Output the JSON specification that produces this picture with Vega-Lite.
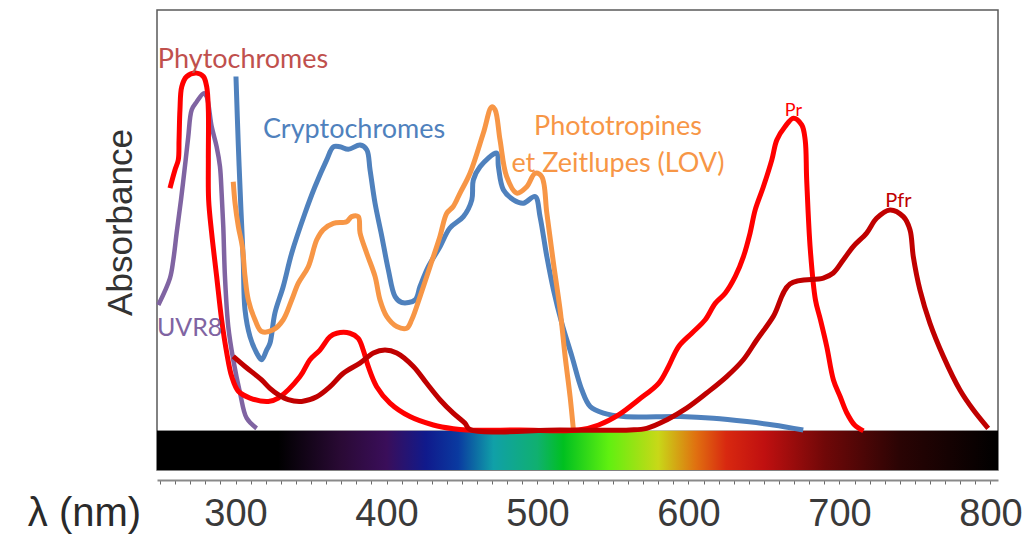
{
  "$schema": "https://vega.github.io/schema/vega-lite/v6.json",
  "width": 841,
  "height": 460,
  "autosize": {"type": "none"},
  "padding": {"left": 157, "top": 10, "right": 36, "bottom": 68},
  "background": "white",
  "config": {"view": {"stroke": "#5a5a5a", "strokeWidth": 1.5}},
  "datasets": {
    "bar": [{"wl": 248, "wl2": 805, "a": -9.3, "a2": 0}],
    "uvr8": [
      {"wl": 248.9, "a": 29.9}, {"wl": 256.6, "a": 36.3}, {"wl": 258.8, "a": 40.6}, {"wl": 261.0, "a": 47.0},
      {"wl": 263.9, "a": 54.9}, {"wl": 267.0, "a": 64.4}, {"wl": 268.7, "a": 69.9}, {"wl": 271.0, "a": 76.3},
      {"wl": 274.3, "a": 78.2}, {"wl": 279.1, "a": 80.2}, {"wl": 280.9, "a": 79.4}, {"wl": 284.2, "a": 72.3},
      {"wl": 287.5, "a": 67.5}, {"wl": 289.7, "a": 62.8}, {"wl": 290.8, "a": 56.5}, {"wl": 291.9, "a": 48.5},
      {"wl": 293.0, "a": 36.7}, {"wl": 295.2, "a": 24.8}, {"wl": 298.5, "a": 16.9}, {"wl": 303.0, "a": 9.0},
      {"wl": 307.4, "a": 3.0}, {"wl": 314.0, "a": 0.6}
    ],
    "crypto": [
      {"wl": 300.3, "a": 84.2}, {"wl": 301.8, "a": 68.4}, {"wl": 303.6, "a": 52.5}, {"wl": 305.1, "a": 40.6},
      {"wl": 306.3, "a": 28.7}, {"wl": 309.6, "a": 22.4}, {"wl": 314.0, "a": 18.5}, {"wl": 317.3, "a": 16.9},
      {"wl": 320.6, "a": 19.2}, {"wl": 322.8, "a": 20.8}, {"wl": 326.1, "a": 28.0}, {"wl": 331.6, "a": 34.3},
      {"wl": 337.2, "a": 42.2}, {"wl": 346.0, "a": 51.7}, {"wl": 352.6, "a": 58.0}, {"wl": 360.4, "a": 64.4},
      {"wl": 364.8, "a": 67.5}, {"wl": 369.2, "a": 67.5}, {"wl": 374.7, "a": 66.9}, {"wl": 382.5, "a": 67.9},
      {"wl": 386.9, "a": 66.8}, {"wl": 389.1, "a": 62.0}, {"wl": 392.4, "a": 54.1}, {"wl": 396.9, "a": 46.2},
      {"wl": 401.2, "a": 38.3}, {"wl": 405.7, "a": 31.9}, {"wl": 410.1, "a": 30.5}, {"wl": 418.9, "a": 31.1},
      {"wl": 422.2, "a": 34.3}, {"wl": 427.7, "a": 39.0}, {"wl": 435.5, "a": 43.8}, {"wl": 442.0, "a": 48.2},
      {"wl": 450.9, "a": 50.9}, {"wl": 456.5, "a": 54.9}, {"wl": 457.5, "a": 59.6}, {"wl": 462.0, "a": 62.8},
      {"wl": 473.0, "a": 66.0}, {"wl": 474.1, "a": 62.8}, {"wl": 477.4, "a": 57.3}, {"wl": 484.1, "a": 54.9},
      {"wl": 490.7, "a": 54.1}, {"wl": 498.4, "a": 55.7}, {"wl": 501.7, "a": 50.9}, {"wl": 506.2, "a": 41.4},
      {"wl": 510.6, "a": 33.5}, {"wl": 516.1, "a": 25.6}, {"wl": 522.8, "a": 17.7}, {"wl": 529.4, "a": 9.7},
      {"wl": 534.9, "a": 5.8}, {"wl": 543.7, "a": 4.2}, {"wl": 557.0, "a": 3.4}, {"wl": 594.5, "a": 3.4},
      {"wl": 616.6, "a": 3.0}, {"wl": 638.7, "a": 2.2}, {"wl": 656.2, "a": 1.4}, {"wl": 676.0, "a": 0.2}
    ],
    "photo": [
      {"wl": 298.5, "a": 59.2}, {"wl": 299.7, "a": 54.1}, {"wl": 301.9, "a": 48.5}, {"wl": 304.5, "a": 43.8},
      {"wl": 306.3, "a": 36.7}, {"wl": 308.5, "a": 31.1}, {"wl": 312.9, "a": 26.4}, {"wl": 317.3, "a": 23.6},
      {"wl": 325.0, "a": 24.0}, {"wl": 331.6, "a": 26.4}, {"wl": 337.2, "a": 31.1}, {"wl": 341.6, "a": 35.1},
      {"wl": 348.2, "a": 39.0}, {"wl": 353.8, "a": 45.4}, {"wl": 358.1, "a": 47.8}, {"wl": 364.8, "a": 49.3},
      {"wl": 373.6, "a": 49.7}, {"wl": 376.9, "a": 50.9}, {"wl": 381.3, "a": 50.9}, {"wl": 382.5, "a": 47.0},
      {"wl": 386.9, "a": 42.2}, {"wl": 392.4, "a": 36.7}, {"wl": 395.7, "a": 31.1}, {"wl": 400.1, "a": 27.2},
      {"wl": 406.8, "a": 24.8}, {"wl": 413.4, "a": 24.4}, {"wl": 416.7, "a": 26.4}, {"wl": 422.2, "a": 31.9},
      {"wl": 428.8, "a": 39.0}, {"wl": 435.4, "a": 46.2}, {"wl": 439.9, "a": 51.7}, {"wl": 444.2, "a": 53.3},
      {"wl": 448.7, "a": 56.5}, {"wl": 455.3, "a": 61.2}, {"wl": 464.1, "a": 70.7}, {"wl": 469.7, "a": 77.0},
      {"wl": 471.9, "a": 76.3}, {"wl": 475.2, "a": 69.1}, {"wl": 479.6, "a": 60.4}, {"wl": 486.2, "a": 56.5},
      {"wl": 492.9, "a": 58.0}, {"wl": 498.4, "a": 61.2}, {"wl": 502.8, "a": 60.4}, {"wl": 506.2, "a": 51.7},
      {"wl": 510.6, "a": 39.8}, {"wl": 515.0, "a": 28.7}, {"wl": 518.3, "a": 17.7}, {"wl": 521.6, "a": 8.1},
      {"wl": 523.8, "a": 0.2}
    ],
    "pr": [
      {"wl": 256.6, "a": 57.7}, {"wl": 259.9, "a": 62.0}, {"wl": 262.1, "a": 64.4}, {"wl": 262.6, "a": 69.1},
      {"wl": 263.2, "a": 76.3}, {"wl": 264.4, "a": 81.8}, {"wl": 267.7, "a": 84.2}, {"wl": 274.3, "a": 85.0},
      {"wl": 278.7, "a": 84.2}, {"wl": 280.9, "a": 81.8}, {"wl": 282.0, "a": 76.3}, {"wl": 282.0, "a": 64.4},
      {"wl": 282.2, "a": 54.9}, {"wl": 284.2, "a": 47.0}, {"wl": 287.5, "a": 36.7}, {"wl": 290.8, "a": 26.4},
      {"wl": 294.2, "a": 18.5}, {"wl": 297.5, "a": 12.9}, {"wl": 301.9, "a": 9.4}, {"wl": 309.6, "a": 7.8},
      {"wl": 321.7, "a": 7.0}, {"wl": 328.3, "a": 7.8}, {"wl": 342.7, "a": 12.9}, {"wl": 349.3, "a": 16.9},
      {"wl": 355.9, "a": 19.2}, {"wl": 362.6, "a": 22.4}, {"wl": 367.0, "a": 23.2}, {"wl": 375.8, "a": 23.2},
      {"wl": 381.3, "a": 22.0}, {"wl": 384.6, "a": 19.2}, {"wl": 387.9, "a": 15.3}, {"wl": 393.5, "a": 10.5},
      {"wl": 402.3, "a": 6.6}, {"wl": 415.5, "a": 3.4}, {"wl": 431.0, "a": 1.4}, {"wl": 444.2, "a": 0.5},
      {"wl": 453.1, "a": 0.2}, {"wl": 488.3, "a": 0.2}, {"wl": 527.2, "a": 0.2}, {"wl": 540.5, "a": 1.4},
      {"wl": 553.7, "a": 3.8}, {"wl": 567.0, "a": 7.4}, {"wl": 580.2, "a": 11.3}, {"wl": 586.8, "a": 15.3},
      {"wl": 593.4, "a": 20.0}, {"wl": 602.2, "a": 23.2}, {"wl": 611.1, "a": 26.4}, {"wl": 617.7, "a": 30.3},
      {"wl": 624.3, "a": 32.7}, {"wl": 631.0, "a": 36.7}, {"wl": 636.4, "a": 41.4}, {"wl": 640.8, "a": 47.0},
      {"wl": 644.2, "a": 52.5}, {"wl": 649.6, "a": 58.0}, {"wl": 655.2, "a": 64.4}, {"wl": 658.5, "a": 69.1},
      {"wl": 664.0, "a": 72.3}, {"wl": 669.5, "a": 74.3}, {"wl": 675.0, "a": 72.7}, {"wl": 677.3, "a": 69.1},
      {"wl": 678.3, "a": 59.6}, {"wl": 680.7, "a": 43.0}, {"wl": 684.1, "a": 31.1}, {"wl": 687.4, "a": 26.4},
      {"wl": 691.6, "a": 20.0}, {"wl": 696.0, "a": 12.1}, {"wl": 700.5, "a": 8.1}, {"wl": 704.8, "a": 4.3},
      {"wl": 710.0, "a": 1.4}, {"wl": 715.9, "a": 0.0}
    ],
    "pfr": [
      {"wl": 298.5, "a": 17.7}, {"wl": 306.3, "a": 15.3}, {"wl": 317.3, "a": 12.1}, {"wl": 322.8, "a": 10.1},
      {"wl": 328.3, "a": 8.6}, {"wl": 334.9, "a": 7.4}, {"wl": 343.8, "a": 7.0}, {"wl": 353.8, "a": 8.1},
      {"wl": 362.6, "a": 10.5}, {"wl": 371.4, "a": 13.7}, {"wl": 382.4, "a": 16.1}, {"wl": 391.3, "a": 18.5},
      {"wl": 399.0, "a": 19.2}, {"wl": 406.8, "a": 18.5}, {"wl": 417.8, "a": 15.3}, {"wl": 426.6, "a": 11.3},
      {"wl": 435.4, "a": 7.4}, {"wl": 444.2, "a": 4.2}, {"wl": 452.0, "a": 1.8}, {"wl": 455.3, "a": 0.3},
      {"wl": 514.9, "a": 0.2}, {"wl": 561.2, "a": 0.2}, {"wl": 572.3, "a": 0.6}, {"wl": 585.5, "a": 2.6},
      {"wl": 598.8, "a": 5.4}, {"wl": 612.1, "a": 9.0}, {"wl": 625.3, "a": 12.9}, {"wl": 636.3, "a": 16.9},
      {"wl": 645.2, "a": 21.6}, {"wl": 656.2, "a": 27.2}, {"wl": 667.2, "a": 34.9}, {"wl": 689.3, "a": 36.3},
      {"wl": 695.9, "a": 37.5}, {"wl": 702.5, "a": 40.6}, {"wl": 709.1, "a": 43.8}, {"wl": 718.0, "a": 47.0},
      {"wl": 724.6, "a": 50.5}, {"wl": 733.4, "a": 52.5}, {"wl": 742.3, "a": 50.9}, {"wl": 746.7, "a": 47.8},
      {"wl": 748.9, "a": 41.4}, {"wl": 753.3, "a": 33.5}, {"wl": 759.9, "a": 25.6}, {"wl": 768.8, "a": 17.7},
      {"wl": 779.8, "a": 9.7}, {"wl": 788.6, "a": 5.0}, {"wl": 798.5, "a": 0.6}
    ],
    "labels": [
      {"label": "Phytochromes", "wl": 305.0, "a": 86.2, "grp": "phy"},
      {"label": "Cryptochromes", "wl": 378.5, "a": 69.5, "grp": "cry"},
      {"label": "Phototropines", "wl": 553.3, "a": 70.3, "grp": "pho"},
      {"label": "et Zeitlupes (LOV)", "wl": 553.3, "a": 61.5, "grp": "pho"}
    ],
    "uvr_label": [{"label": "UVR8", "wl": 269.6, "a": 22.5}],
    "pr_label": [{"label": "Pr", "wl": 669.5, "a": 74.7}],
    "pfr_label": [{"label": "Pfr", "wl": 739.1, "a": 53.3}]
  },
  "encoding": {
    "x": {
      "field": "wl",
      "type": "quantitative",
      "scale": {"domain": [248, 805], "nice": false, "zero": false},
      "axis": {
        "values": [250, 260, 270, 280, 290, 300, 310, 320, 330, 340, 350, 360, 370, 380, 390, 400, 410, 420, 430, 440, 450, 460, 470, 480, 490, 500, 510, 520, 530, 540, 550, 560, 570, 580, 590, 600, 610, 620, 630, 640, 650, 660, 670, 680, 690, 700, 710, 720, 730, 740, 750, 760, 770, 780, 790, 800],
        "labelExpr": "datum.value % 100 === 0 ? datum.label : ''",
        "labelOverlap": false,
        "labelFlush": false,
        "grid": false,
        "offset": 10,
        "domainColor": "#8a8a8a",
        "domainWidth": 2,
        "tickColor": "#6a6a6a",
        "tickSize": 4,
        "tickWidth": 1,
        "labelFont": "Liberation Sans",
        "labelFontSize": 38,
        "labelColor": "#3a3a3a",
        "labelBaseline": "alphabetic",
        "labelPadding": 41,
        "title": "λ (nm)",
        "titleFont": "Liberation Sans",
        "titleFontSize": 40,
        "titleFontWeight": "normal",
        "titleColor": "#2a2a2a",
        "titleX": -73,
        "titleY": 45,
        "titleAlign": "center",
        "titleBaseline": "alphabetic",
        "titleAngle": 0
      }
    },
    "y": {
      "field": "a",
      "type": "quantitative",
      "scale": {"domain": [-9.3, 100], "nice": false, "zero": false},
      "axis": {
        "title": "Absorbance",
        "domain": false,
        "ticks": false,
        "labels": false,
        "grid": false,
        "titleFont": "Liberation Sans",
        "titleFontSize": 35,
        "titleFontWeight": "normal",
        "titleColor": "#333333",
        "titleAngle": -90,
        "titleX": -26,
        "titleY": 212,
        "titleAlign": "center",
        "titleBaseline": "alphabetic"
      }
    }
  },
  "layer": [
    {
      "data": {"name": "bar"},
      "mark": {"type": "rect", "color": "#000000"},
      "encoding": {
        "x2": {"field": "wl2"},
        "y2": {"field": "a2"}
      }
    },
    {
      "data": {"name": "bar"},
      "mark": {
        "type": "rect",
        "color": {
          "gradient": "linear", "x1": 0, "x2": 1, "y1": 0, "y2": 0,
          "stops": [
            {"offset": 0, "color": "#000000"},
            {"offset": 0.144, "color": "#000000"},
            {"offset": 0.219, "color": "#2a0a35"},
            {"offset": 0.273, "color": "#3a0e5a"},
            {"offset": 0.320, "color": "#101a8c"},
            {"offset": 0.358, "color": "#0a3aa0"},
            {"offset": 0.400, "color": "#10a0a8"},
            {"offset": 0.452, "color": "#10b070"},
            {"offset": 0.483, "color": "#00c020"},
            {"offset": 0.537, "color": "#60f010"},
            {"offset": 0.596, "color": "#c8d818"},
            {"offset": 0.641, "color": "#e07010"},
            {"offset": 0.677, "color": "#d82810"},
            {"offset": 0.722, "color": "#c01010"},
            {"offset": 0.794, "color": "#700808"},
            {"offset": 0.883, "color": "#2a0404"},
            {"offset": 1, "color": "#000000"}
          ]
        }
      },
      "encoding": {
        "x2": {"field": "wl2"},
        "y2": {"field": "a2"}
      }
    },
    {
      "data": {"name": "uvr8"},
      "mark": {"type": "line", "color": "#8064A2", "strokeWidth": 4.5, "strokeJoin": "round", "interpolate": "catmull-rom"},
      "encoding": {"order": {"value": null}}
    },
    {
      "data": {"name": "crypto"},
      "mark": {"type": "line", "color": "#4F81BD", "strokeWidth": 5, "strokeJoin": "round", "interpolate": "catmull-rom"},
      "encoding": {"order": {"value": null}}
    },
    {
      "data": {"name": "photo"},
      "mark": {"type": "line", "color": "#F79646", "strokeWidth": 5, "strokeJoin": "round", "interpolate": "catmull-rom"},
      "encoding": {"order": {"value": null}}
    },
    {
      "data": {"name": "pr"},
      "mark": {"type": "line", "color": "#FF0000", "strokeWidth": 5, "strokeJoin": "round", "interpolate": "catmull-rom"},
      "encoding": {"order": {"value": null}}
    },
    {
      "data": {"name": "pfr"},
      "mark": {"type": "line", "color": "#C00000", "strokeWidth": 5, "strokeJoin": "round", "interpolate": "catmull-rom"},
      "encoding": {"order": {"value": null}}
    },
    {
      "data": {"name": "labels"},
      "mark": {"type": "text", "font": "Lato", "fontSize": 27, "align": "center", "baseline": "alphabetic"},
      "encoding": {
        "text": {"field": "label"},
        "color": {
          "field": "grp",
          "type": "nominal",
          "scale": {"domain": ["phy", "cry", "pho"], "range": ["#C0504D", "#4F81BD", "#F79646"]},
          "legend": null
        }
      }
    },
    {
      "data": {"name": "uvr_label"},
      "mark": {"type": "text", "font": "Lato", "fontSize": 25, "align": "center", "baseline": "alphabetic", "color": "#8064A2"},
      "encoding": {"text": {"field": "label"}}
    },
    {
      "data": {"name": "pr_label"},
      "mark": {"type": "text", "font": "Lato", "fontSize": 18, "align": "center", "baseline": "alphabetic", "color": "#FF0000"},
      "encoding": {"text": {"field": "label"}}
    },
    {
      "data": {"name": "pfr_label"},
      "mark": {"type": "text", "font": "Lato", "fontSize": 20, "align": "center", "baseline": "alphabetic", "color": "#C00000"},
      "encoding": {"text": {"field": "label"}}
    }
  ]
}
